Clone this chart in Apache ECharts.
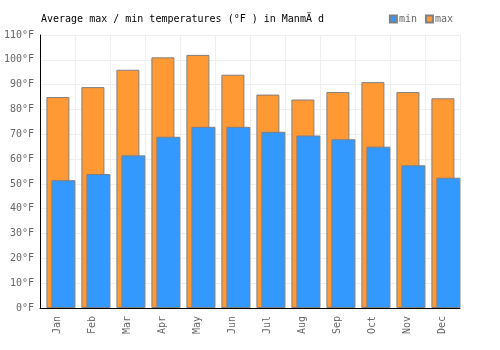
<!DOCTYPE html>
<html>
<head>
<meta charset="utf-8">
<script src="https://cdn.jsdelivr.net/npm/echarts@6/dist/echarts.min.js"></script>
<style>
  html, body { margin: 0; padding: 0; background: #fff; }
  #myChart { width: 500px; height: 350px; }
</style>
</head>
<body>
<div id="myChart"></div>
<script>
var months = ['Jan', 'Feb', 'Mar', 'Apr', 'May', 'Jun', 'Jul', 'Aug', 'Sep', 'Oct', 'Nov', 'Dec'];
var maxTemps = [85, 89, 96, 101, 102, 94, 86, 84, 87, 91, 87, 84.5];
var minTemps = [51.5, 54, 61.5, 69, 73, 73, 71, 69.5, 68, 65, 57.5, 52.5];
var yTicks = { min: 0, max: 110, interval: 10 };

var font = 'DejaVu Sans Mono';
var myChart = echarts.init(document.getElementById('myChart'));
var option = {
    animation: false,
    title: {
        text: 'Average max / min temperatures (°F ) in ManmÄ d',
        left: 36,
        top: 9,
        textStyle: { fontFamily: font, fontSize: 10, fontWeight: 'normal', color: '#000' }
    },
    legend: {
        right: 42,
        top: 9,
        itemWidth: 7,
        itemHeight: 7,
        itemGap: 8,
        icon: 'rect',
        textStyle: { fontFamily: font, fontSize: 10, color: '#666', padding: [0, 0, 0, -3] },
        data: ['min', 'max']
    },
    // grid 0: axes, grid lines and labels; grid 1: the bars (shifted a few px right as in the original)
    grid: [
        { left: 40, top: 35, width: 420, height: 273 },
        { left: 43.4, top: 35, width: 420, height: 273 }
    ],
    xAxis: [{
        type: 'category',
        gridIndex: 0,
        data: months,
        axisLine: { lineStyle: { color: '#000', width: 1 } },
        axisTick: { show: false },
        splitLine: { show: true, lineStyle: { color: '#eeeeee' } },
        axisLabel: { rotate: 90, color: '#666', fontFamily: font, fontSize: 10, margin: 8 }
    }, {
        type: 'category',
        gridIndex: 1,
        data: months,
        show: false
    }],
    yAxis: [{
        type: 'value',
        gridIndex: 0,
        min: yTicks.min,
        max: yTicks.max,
        interval: yTicks.interval,
        axisLine: { show: true, lineStyle: { color: '#000', width: 1 } },
        axisTick: { show: false },
        splitLine: { lineStyle: { color: '#eeeeee' } },
        axisLabel: { color: '#666', fontFamily: font, fontSize: 10, margin: 6, formatter: '{value}°F' }
    }, {
        type: 'value',
        gridIndex: 1,
        min: yTicks.min,
        max: yTicks.max,
        interval: yTicks.interval,
        show: false,
        splitLine: { show: false }
    }],
    series: [{
        name: 'max',
        type: 'bar',
        xAxisIndex: 1,
        yAxisIndex: 1,
        barWidth: 23,
        barGap: '-78.26%',
        itemStyle: { color: '#ff9933', borderColor: '#808080', borderWidth: 1 },
        data: maxTemps
    }, {
        name: 'min',
        type: 'bar',
        xAxisIndex: 1,
        yAxisIndex: 1,
        barWidth: 24,
        barGap: '-78.26%',
        itemStyle: { color: '#3399ff', borderColor: '#808080', borderWidth: 1 },
        data: minTemps
    }]
};
myChart.setOption(option);
</script>
</body>
</html>
